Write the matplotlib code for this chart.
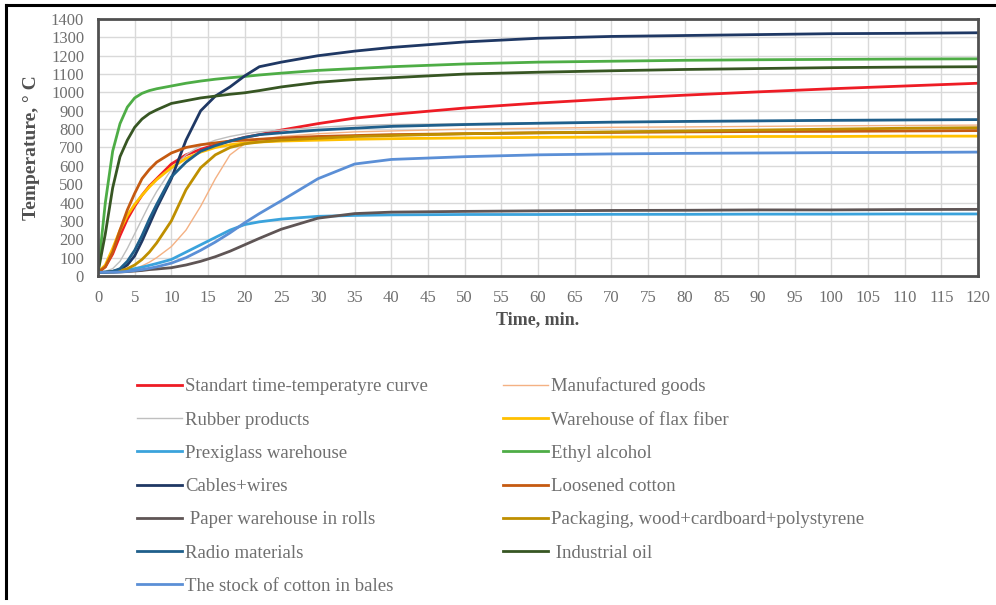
import matplotlib.pyplot as plt
from matplotlib.lines import Line2D

# time points, min
time_min = [0, 1, 2, 3, 4, 5, 6, 7, 8, 10, 12, 14, 16, 18, 20, 22, 25, 30,
            35, 40, 50, 60, 70, 80, 90, 100, 110, 120]

# temperatures, deg C
standart = [20, 50, 120, 220, 310, 380, 440, 490, 530, 610, 660, 690, 715, 735,
            755, 770, 795, 830, 860, 880, 915, 942, 965, 985, 1003, 1020, 1035, 1050]
manufactured = [20, 20, 22, 25, 30, 40, 55, 75, 100, 160, 250, 380, 530, 660,
                720, 745, 760, 775, 785, 790, 800, 805, 810, 812, 815, 818, 820, 822]
rubber = [20, 25, 40, 80, 150, 230, 310, 390, 460, 580, 660, 710, 740, 760,
          775, 785, 795, 810, 820, 825, 830, 835, 838, 840, 842, 845, 848, 850]
flax = [20, 60, 150, 250, 330, 390, 440, 485, 525, 590, 640, 675, 700, 715,
        725, 730, 735, 740, 745, 748, 752, 755, 757, 758, 760, 760, 762, 762]
prexiglass = [20, 22, 25, 30, 35, 40, 48, 58, 68, 90, 130, 170, 210, 250,
              280, 295, 310, 325, 330, 333, 335, 335, 336, 336, 337, 337, 338, 338]
ethyl = [20, 400, 680, 830, 920, 970, 995, 1010, 1020, 1035, 1050, 1062, 1072, 1080,
         1087, 1095, 1105, 1120, 1130, 1140, 1155, 1165, 1170, 1175, 1178, 1180, 1182, 1183]
cables = [20, 20, 25, 35, 60, 110, 190, 280, 370, 530, 740, 900, 980, 1030,
          1090, 1140, 1165, 1200, 1225, 1245, 1275, 1295, 1305, 1310, 1315, 1320, 1322, 1325]
loosened = [20, 50, 130, 250, 360, 450, 530, 580, 620, 670, 700, 715, 725, 735,
            740, 745, 752, 760, 765, 770, 775, 780, 782, 785, 787, 788, 790, 792]
paper = [20, 20, 20, 22, 24, 27, 30, 35, 38, 45, 60, 80, 105, 135,
         170, 205, 255, 315, 340, 348, 352, 355, 357, 358, 360, 360, 362, 363]
packaging = [20, 20, 22, 28, 40, 60, 90, 130, 180, 300, 470, 590, 660, 700,
             720, 730, 740, 750, 760, 765, 775, 780, 785, 790, 795, 800, 805, 808]
radio = [20, 20, 25, 40, 80, 140, 220, 310, 390, 540, 620, 680, 710, 735,
         755, 770, 780, 795, 805, 815, 825, 832, 838, 842, 845, 848, 850, 852]
industrial = [20, 230, 480, 650, 740, 810, 855, 885, 905, 940, 955, 970, 980, 990,
              998, 1010, 1030, 1055, 1070, 1080, 1100, 1110, 1118, 1125, 1130, 1135, 1138, 1140]
cotton_bales = [20, 20, 20, 22, 25, 30, 35, 42, 50, 70, 100, 140, 185, 235,
                290, 340, 410, 530, 610, 635, 650, 660, 665, 668, 670, 672, 673, 675]

series = [
    ("Standart time-temperatyre curve", standart, "#ee1c25", 2.0),
    ("Manufactured goods", manufactured, "#f4b183", 1.0),
    ("Rubber products", rubber, "#bfbfbf", 1.0),
    ("Warehouse of flax fiber", flax, "#ffc000", 2.0),
    ("Prexiglass warehouse", prexiglass, "#3ba3dc", 2.0),
    ("Ethyl alcohol", ethyl, "#4ead46", 2.0),
    ("Cables+wires", cables, "#1f3864", 2.0),
    ("Loosened cotton", loosened, "#c55a11", 2.0),
    (" Paper warehouse in rolls", paper, "#5f5555", 2.0),
    ("Packaging, wood+cardboard+polystyrene", packaging, "#bf8f00", 2.0),
    ("Radio materials", radio, "#1f5f8b", 2.0),
    (" Industrial oil", industrial, "#375623", 2.0),
    ("The stock of cotton in bales", cotton_bales, "#5b8fd6", 2.0),
]

serif = "Liberation Serif"
gray = "#6f6f6f"

fig = plt.figure(figsize=(9.96, 6.05), dpi=100)
ax = fig.add_axes([0.0984, 0.5438, 0.8835, 0.4248])

lines = {}
for name, vals, col, lw in series:
    ln, = ax.plot(time_min, vals, color=col, lw=lw, label=name)
    lines[name] = ln

ax.set_xlim(0, 120)
ax.set_ylim(0, 1400)
ax.set_xticks(range(0, 121, 5))
ax.set_yticks(range(0, 1401, 100))
ax.grid(True, color="#d9d9d9", lw=1)
ax.set_axisbelow(True)
for sp in ax.spines.values():
    sp.set_color("#505050")
    sp.set_linewidth(2)
ax.tick_params(length=0, pad=10, labelsize=12, labelcolor=gray)
for lab in ax.get_xticklabels() + ax.get_yticklabels():
    lab.set_family(serif)

ax.set_xlabel("Time, min.", fontsize=13, fontweight="bold", family=serif,
              color="#505050", labelpad=4)
ax.set_ylabel("Temperature, ° C", fontsize=14, fontweight="bold", family=serif,
              color="#505050", labelpad=8)

# legend: column-first order as in the original figure
order = [0, 2, 4, 6, 8, 10, 12, 1, 3, 5, 7, 9, 11]
handles = [lines[series[i][0]] for i in order]
labels = [series[i][0] for i in order]
leg = fig.legend(handles, labels, ncol=2, frameon=False, loc="upper left",
                 bbox_to_anchor=(0.121, 0.404), prop={"family": serif, "size": 13.5},
                 handlelength=2.4, handletextpad=0.15, columnspacing=4.0,
                 labelspacing=0.86)
for t in leg.get_texts():
    t.set_color(gray)

# frame lines of the scanned figure
fig.add_artist(Line2D([0.006, 0.006], [0.012, 0.992], color="black", lw=2.2,
                      transform=fig.transFigure))
fig.add_artist(Line2D([0.006, 1.0], [0.992, 0.992], color="black", lw=2.2,
                      transform=fig.transFigure))

fig.savefig("out.png", dpi=100)
